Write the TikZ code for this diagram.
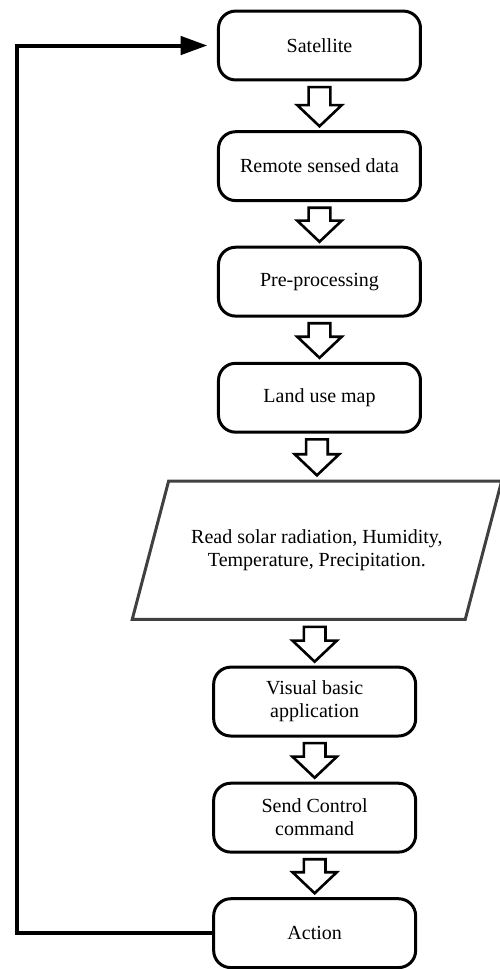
\documentclass[tikz,border=0pt]{standalone}
\usepackage{fontspec}
\setmainfont{Liberation Serif}
\usepackage{tikz}
\usetikzlibrary{calc,arrows.meta}

% hollow block arrow from one box down to the next
\newcommand{\hollowarrow}[2]{%
\draw[hollow] ($(#2.north |- #1.south)+(-0.19,-0.1)$) -- ($(#2.north |- #1.south)+(0.19,-0.1)$)
 -- ($(#2.north)+(0.19,0.44)$) -- ($(#2.north)+(0.39,0.44)$) -- ($(#2.north)+(0,0.07)$)
 -- ($(#2.north)+(-0.39,0.44)$) -- ($(#2.north)+(-0.19,0.44)$) -- cycle;}

\begin{document}
\begin{tikzpicture}[font=\fontsize{10}{11.5}\selectfont,
 flowbox/.style={draw, line width=1.5pt, rounded corners=0.3cm, minimum width=3.55cm, minimum height=1.21cm, align=center, inner sep=0pt},
 inputbox/.style={minimum width=5.80cm, minimum height=2.44cm, align=center, inner sep=0pt, outer sep=0.75pt},
 inputline/.style={draw=black!75, line width=1.5pt, line join=miter},
 hollow/.style={line width=1.3pt, fill=white, line join=miter},
 loopline/.style={line width=2pt, -{Triangle[length=0.47cm,width=0.32cm]}}]
\useasboundingbox (0,0) rectangle (8.77,-17.03);
%upper column
\node[flowbox] (sat) at (5.615,-0.80) {Satellite};
\node[flowbox] (rem) at (5.615,-2.92) {Remote sensed data};
\node[flowbox] (pre) at (5.615,-4.95) {Pre-processing};
\node[flowbox] (land) at (5.615,-6.99) {Land use map};
%input data
\node[inputbox] (read) at (5.57,-9.67) {Read solar radiation, Humidity,\\Temperature, Precipitation.};
\draw[inputline] ($(read.south west)+(-0.32,0.03)$) -- ($(read.south east)+(-0.32,0.03)$)
 -- ($(read.north east)+(0.32,-0.03)$) -- ($(read.north west)+(0.32,-0.03)$) -- cycle;
%lower column
\node[flowbox] (vb) at (5.53,-12.33) {Visual basic\\application};
\node[flowbox] (send) at (5.53,-14.37) {Send Control\\command};
\node[flowbox] (act) at (5.53,-16.40) {Action};
%block arrows
\foreach \a/\b in {sat/rem,rem/pre,pre/land,land/read,read/vb,vb/send,send/act}
\hollowarrow{\a}{\b};
%feedback loop
\coordinate (back) at (0.30,-8.5);
\draw[loopline, shorten >=0.17cm] (act.west) -- (act.west -| back) -- (sat.west -| back) -- (sat.west);
\end{tikzpicture}
\end{document}
